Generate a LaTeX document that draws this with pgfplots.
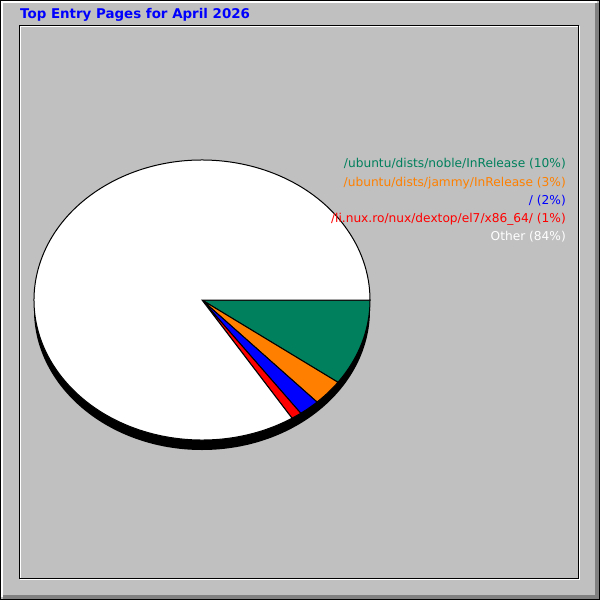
\documentclass[border=0pt]{standalone}
\usepackage{fontspec}
\setmainfont{DejaVu Sans}
\usepackage{pgfplots}
\pgfplotsset{compat=1.18}
\usepackage{pgfplotstable}

\definecolor{wgray}{HTML}{C0C0C0}
\definecolor{wdark}{HTML}{808080}
\definecolor{pgreen}{HTML}{00805C}
\definecolor{porange}{HTML}{FF8000}
\definecolor{pblue}{HTML}{0000FF}
\definecolor{pred}{HTML}{FF0000}

% share of entry pages, percent
\pgfplotstableread{
page share
noble 10
jammy 3
root 2
nux 1
other 84
}\entrytable

% one wedge of the pie, screen angles clockwise from 3 o'clock
\newcommand\slice[3]{%
  \filldraw[fill=#3, draw=black, line width=1bp]
    (axis cs:202,300) -- ([shift={(-#1:168bp and 140bp)}]axis cs:202,300)
    arc[start angle=-#1, end angle=-#2, x radius=168bp, y radius=140bp] -- cycle;}

\begin{document}%
\pgfplotstablegetelem{0}{share}\of\entrytable \pgfmathsetmacro\aA{3.6*\pgfplotsretval}%
\pgfplotstablegetelem{1}{share}\of\entrytable \pgfmathsetmacro\aB{\aA+3.6*\pgfplotsretval}%
\pgfplotstablegetelem{2}{share}\of\entrytable \pgfmathsetmacro\aC{\aB+3.6*\pgfplotsretval}%
\pgfplotstablegetelem{3}{share}\of\entrytable \pgfmathsetmacro\aD{\aC+3.6*\pgfplotsretval}%
\pgfplotstablegetelem{4}{share}\of\entrytable \pgfmathsetmacro\aE{\aD+3.6*\pgfplotsretval}%
\begin{tikzpicture}
\begin{axis}[
    width=600bp, height=600bp,
    scale only axis,
    xmin=0, xmax=600, ymin=0, ymax=600,
    y dir=reverse,
    hide axis,
    clip=false,
]
% frame
\coordinate (tl) at (axis cs:0,0);
\coordinate (br) at (axis cs:600,600);
\fill[black] (axis cs:0,0) rectangle (axis cs:600,600);
\fill[wgray] (axis cs:1,1) rectangle (axis cs:599,599);
\fill[white] (axis cs:1,1) rectangle (axis cs:597,3);
\fill[white] (axis cs:1,1) rectangle (axis cs:3,597);
\fill[wdark] (axis cs:595,3) rectangle (axis cs:599,599);
\fill[wdark] (axis cs:3,595) rectangle (axis cs:599,599);
\draw[white, line width=1bp] (axis cs:20.5,26.5) rectangle (axis cs:579.5,579.5);
\draw[black, line width=1bp] (axis cs:19.5,25.5) rectangle (axis cs:578.5,578.5);

% title
\node[anchor=base west, text=blue, inner sep=0pt,
      font=\bfseries\fontsize{13.4bp}{15bp}\selectfont]
  at (axis cs:20,19) {Top Entry Pages for April 2026};

% shadow and pie
\fill[black] (axis cs:202,310) ellipse[x radius=168bp, y radius=140bp];
\slice{0}{\aA}{pgreen}
\slice{\aA}{\aB}{porange}
\slice{\aB}{\aC}{pblue}
\slice{\aC}{\aD}{pred}
\slice{\aD}{\aE}{white}

% legend
\begin{scope}[every node/.style={anchor=base east, inner sep=0pt,
      font=\fontsize{12.2bp}{14bp}\selectfont}]
\node[text=pgreen]  at (axis cs:566,168) {/ubuntu/dists/noble/InRelease (10\%)};
\node[text=porange] at (axis cs:566,186) {/ubuntu/dists/jammy/InRelease (3\%)};
\node[text=pblue]   at (axis cs:566,204) {/ (2\%)};
\node[text=pred]    at (axis cs:566,222) {/li.nux.ro/nux/dextop/el7/x86\_64/ (1\%)};
\node[text=white]   at (axis cs:566,240) {Other (84\%)};
\end{scope}
\end{axis}
\pgfresetboundingbox
\path[use as bounding box] (tl) rectangle (br);
\end{tikzpicture}%
\end{document}
